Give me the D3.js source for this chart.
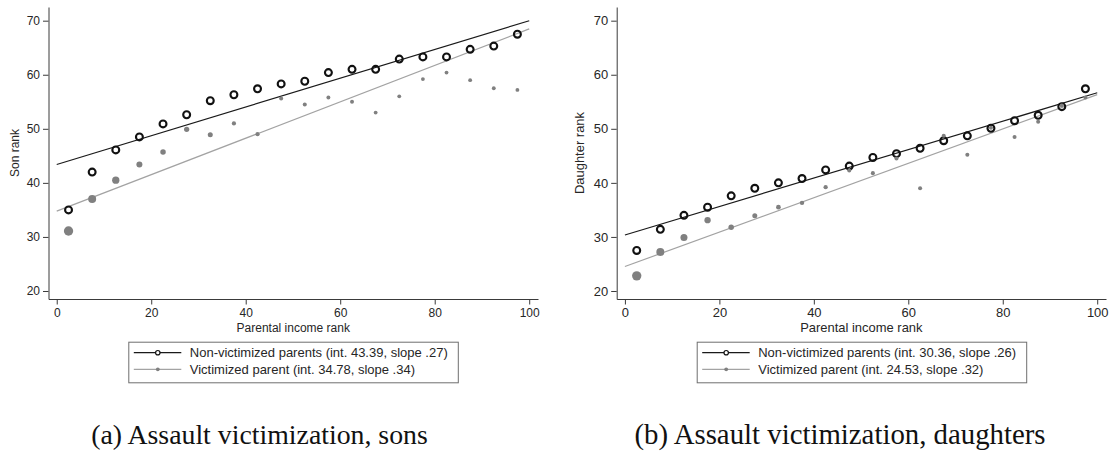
<!DOCTYPE html>
<html><head><meta charset="utf-8">
<script src="https://cdn.jsdelivr.net/npm/d3@7"></script>
<style>body{margin:0;background:#fff}svg{display:block}</style>
</head><body>
<svg id="chart" width="1111" height="451"></svg>
<script>
// ---------------- DATA ----------------
const incomeRank = [2.5, 7.5, 12.5, 17.5, 22.5, 27.5, 32.5, 37.5, 42.5, 47.5, 52.5, 57.5, 62.5, 67.5, 72.5, 77.5, 82.5, 87.5, 92.5, 97.5];

const sonNonVictimized = [35.0, 42.0, 46.1, 48.5, 50.9, 52.6, 55.2, 56.3, 57.4, 58.3, 58.8, 60.4, 61.0, 61.0, 62.9, 63.3, 63.3, 64.7, 65.3, 67.5];
const sonVictimized    = [31.1, 37.0, 40.5, 43.4, 45.7, 49.9, 48.9, 51.0, 49.0, 55.6, 54.5, 55.8, 55.0, 53.0, 56.0, 59.2, 60.4, 59.0, 57.5, 57.2];
const sonVictimizedWeight = [100, 74, 62, 42, 35, 32, 29, 21, 21, 19, 19, 18, 18, 17, 17, 17, 17, 17, 17, 17];
const sonFitIntercept = [43.39, 34.78];
const sonFitSlope     = [0.266, 0.337];
const sonLegend = ["Non-victimized parents (int. 43.39, slope .27)", "Victimized parent (int. 34.78, slope .34)"];

const daughterNonVictimized = [27.5, 31.4, 34.0, 35.5, 37.6, 39.0, 40.0, 40.8, 42.4, 43.1, 44.7, 45.4, 46.4, 47.8, 48.7, 50.1, 51.5, 52.5, 54.1, 57.4];
const daughterVictimized    = [22.8, 27.2, 29.9, 33.1, 31.8, 33.9, 35.5, 36.3, 39.2, 42.3, 41.8, 44.5, 39.0, 48.7, 45.2, 50.2, 48.5, 51.3, 54.3, 55.8];
const daughterVictimizedWeight = [100, 74, 57, 46, 35, 29, 26, 23, 21, 19, 19, 19, 19, 19, 19, 19, 19, 19, 19, 19];
const daughterFitIntercept = [30.36, 24.53];
const daughterFitSlope     = [0.263, 0.318];
const daughterLegend = ["Non-victimized parents (int. 30.36, slope .26)", "Victimized parent (int. 24.53, slope .32)"];

const xTicks = [0, 20, 40, 60, 80, 100];
const yTicks = [20, 30, 40, 50, 60, 70];
const xTitle = "Parental income rank";
const captions = ["(a) Assault victimization, sons", "(b) Assault victimization, daughters"];
const yTitles = ["Son rank", "Daughter rank"];

// ---------------- RENDER ----------------
const svg = d3.select('#chart');

function textWidth(family, size, str) {
  const t = svg.append('text').attr('font-family', family).attr('font-size', size).text(str);
  const w = t.node().getComputedTextLength();
  t.remove();
  return w;
}
const narrowOK = Math.abs(textWidth("'Liberation Sans Narrow', monospace", 100, xTitle) - textWidth("monospace", 100, xTitle)) > 2;
const sansFamily = narrowOK ? "'Liberation Sans Narrow', 'Liberation Sans', Arial, sans-serif" : "'Liberation Sans', Arial, sans-serif";
const baseSize = narrowOK ? 14 : 12;
const legendSize = narrowOK ? 15.2 : 13;

const textColor = '#262626';
const axisColor = '#3a3a3a';
const dotColor = '#808080';
const grayLine = '#a3a3a3';
const blackLine = '#1a1a1a';

const rScale = d3.scaleSqrt().domain([0, 100]).range([0, 4.65]);

function drawPanel(p) {
  const x = d3.scaleLinear().domain([-1.74, 101.86]).range([p.left, p.right]);
  const y = d3.scaleLinear().domain([18.52, 72.53]).range([299, 7]);
  const g = svg.append('g');

  // axes
  const yAxis = g.append('g').attr('transform', `translate(${p.left},0)`)
    .call(d3.axisLeft(y).tickValues(yTicks).tickSize(5.5).tickPadding(3).tickSizeOuter(0));
  const xAxis = g.append('g').attr('transform', `translate(0,299)`)
    .call(d3.axisBottom(x).tickValues(xTicks).tickSize(5.5).tickPadding(3.5).tickSizeOuter(0));
  [yAxis, xAxis].forEach(a => {
    a.select('.domain').attr('stroke', axisColor).attr('stroke-width', 1);
    a.selectAll('.tick line').attr('stroke', axisColor);
    a.selectAll('.tick text').attr('fill', textColor)
      .attr('font-family', sansFamily).attr('font-size', baseSize * p.fs);
  });

  // axis titles
  g.append('text').attr('transform', `translate(${p.yTitleX},153) rotate(-90)`)
    .attr('text-anchor', 'middle').attr('font-family', sansFamily).attr('font-size', baseSize * p.fs)
    .attr('fill', textColor).text(p.yTitle);
  g.append('text').attr('x', (p.left + p.right) / 2).attr('y', 331.5)
    .attr('text-anchor', 'middle').attr('font-family', sansFamily).attr('font-size', baseSize * p.fs)
    .attr('fill', textColor).text(xTitle);

  // fitted lines
  const line = d3.line().x(d => x(d[0])).y(d => y(d[1]));
  const fitColors = [blackLine, grayLine];
  p.intercept.forEach((a, i) => {
    const b = p.slope[i];
    g.append('path').attr('d', line([[0, a], [100, a + b * 100]]))
      .attr('fill', 'none').attr('stroke', fitColors[i]).attr('stroke-width', 1.2);
  });

  // non-victimized circles
  g.append('g').selectAll('circle').data(incomeRank).join('circle')
    .attr('cx', (d) => x(d)).attr('cy', (d, i) => y(p.nonVic[i]))
    .attr('r', 3.45).attr('fill', 'none').attr('stroke', '#111').attr('stroke-width', 2.1);

  // victimized dots
  g.append('g').selectAll('circle').data(incomeRank).join('circle')
    .attr('cx', (d) => x(d)).attr('cy', (d, i) => y(p.vic[i]))
    .attr('r', (d, i) => rScale(p.weight[i])).attr('fill', dotColor);

  // legend
  const lg = g.append('g').attr('transform', `translate(${p.legendX},341.7)`);
  lg.append('rect').attr('x', 0.5).attr('y', 0.5).attr('width', 329.5).attr('height', 40.6)
    .attr('fill', '#fff').attr('stroke', '#6e6e6e').attr('stroke-width', 1);
  p.legend.forEach((lab, i) => {
    const yy = i === 0 ? 11 : 27.6;
    lg.append('line').attr('x1', 5.5).attr('x2', 53).attr('y1', yy).attr('y2', yy)
      .attr('stroke', fitColors[i]).attr('stroke-width', 1.2);
    if (i === 0) {
      lg.append('circle').attr('cx', 29.5).attr('cy', yy).attr('r', 2.2)
        .attr('fill', '#fff').attr('stroke', '#111').attr('stroke-width', 1.2);
    } else {
      lg.append('circle').attr('cx', 29.5).attr('cy', yy).attr('r', 1.9).attr('fill', dotColor);
    }
    lg.append('text').attr('x', 61.5).attr('y', yy).attr('dy', '0.35em')
      .attr('font-family', sansFamily).attr('font-size', legendSize).attr('fill', textColor).text(lab);
  });

  // caption
  g.append('text').attr('x', p.captionX).attr('y', 444).attr('text-anchor', 'middle')
    .attr('font-family', "'Liberation Serif', 'Times New Roman', serif").attr('font-size', p.capSize)
    .attr('fill', '#111').text(p.caption);
}

drawPanel({
  left: 48.5, right: 538, yTitleX: 18.5, legendX: 128.3, captionX: 259.5, fs: 1.0, capSize: 27.8,
  yTitle: yTitles[0], caption: captions[0], legend: sonLegend,
  nonVic: sonNonVictimized, vic: sonVictimized, weight: sonVictimizedWeight,
  intercept: sonFitIntercept, slope: sonFitSlope
});
drawPanel({
  left: 616.7, right: 1106, yTitleX: 584, legendX: 696.7, captionX: 840, fs: 1.08, capSize: 28.8,
  yTitle: yTitles[1], caption: captions[1], legend: daughterLegend,
  nonVic: daughterNonVictimized, vic: daughterVictimized, weight: daughterVictimizedWeight,
  intercept: daughterFitIntercept, slope: daughterFitSlope
});
</script>
</body></html>
